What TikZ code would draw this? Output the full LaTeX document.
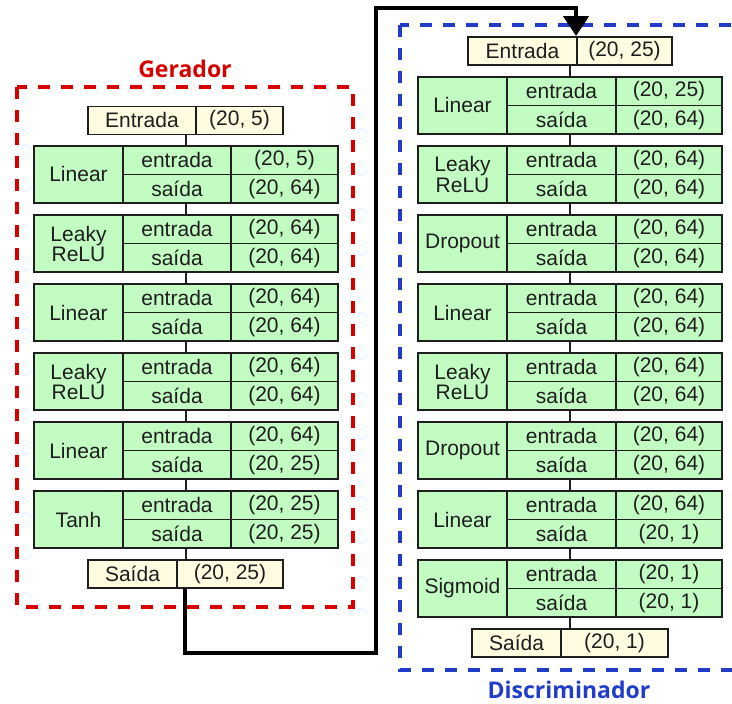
\documentclass[tikz,border=0pt]{standalone}
\usepackage{fontspec}
\setmainfont{Liberation Sans}
\newfontfamily\headfont{Open Sans}
\usepackage{xcolor}
\usetikzlibrary{arrows.meta}

\definecolor{layer}{RGB}{194,252,194}
\definecolor{io}{RGB}{255,252,226}
\definecolor{edge}{RGB}{30,30,30}
\definecolor{genred}{RGB}{214,0,0}
\definecolor{discblue}{RGB}{32,60,200}

\begin{document}
\begin{tikzpicture}[x=0.5pt,y=-0.5pt,
  cell/.style={draw=edge, line width=0.95pt, inner sep=0pt, align=center,
    font=\fontsize{10.5}{10}\selectfont, text=edge},
  namecell/.style={cell, fill=layer, minimum width=44.5pt, minimum height=28.5pt},
  keycell/.style={cell, fill=layer, minimum width=54pt, minimum height=14.25pt},
  valcell/.style={cell, fill=layer, minimum width=53.5pt, minimum height=14.25pt},
  iocell/.style={cell, fill=io, minimum height=14pt},
  link/.style={draw=edge, line width=0.65pt},
  frame/.style={line width=2pt, dash pattern=on 6pt off 5.5pt},
  title/.style={font=\headfont\bfseries\fontsize{11.5}{12}\selectfont},
  flow/.style={line width=2.3pt, -{Triangle[width=12.5pt,length=10pt]}}
]
\clip (0,0) rectangle (732,704);

% frames and titles
\draw[frame, genred] (17,87) rectangle (353,607);
\node[title, text=genred] (gtitle) at (185,69) {Gerador};
\draw[frame, discblue] (400,25) rectangle (760,670);
\node[title, text=discblue] (dtitle) at (569,690) {Discriminador};

% generator
\node[iocell, minimum width=54pt] (gin) at (142,120.5) {Entrada};
\node[iocell, minimum width=43.5pt] (ginv) at (239.5,120.5) {(20, 5)};
\coordinate (g0-bot) at (186,134);
\foreach \i/\nm/\a/\b in {1/Linear/{(20, 5)}/{(20, 64)},
    2/{Leaky\\ReLU}/{(20, 64)}/{(20, 64)},
    3/Linear/{(20, 64)}/{(20, 64)},
    4/{Leaky\\ReLU}/{(20, 64)}/{(20, 64)},
    5/Linear/{(20, 64)}/{(20, 25)},
    6/Tanh/{(20, 25)}/{(20, 25)}}{
  \pgfmathsetmacro\yc{174.5+69*(\i-1)}
  \node[namecell] (g\i) at (78.5,\yc) {\nm};
  \node[keycell] (g\i-in) at (177,\yc-14.25) {entrada};
  \node[valcell] (g\i-inv) at (284.5,\yc-14.25) {\a};
  \node[keycell] (g\i-out) at (177,\yc+14.25) {saída};
  \node[valcell] (g\i-outv) at (284.5,\yc+14.25) {\b};
  \coordinate (g\i-top) at (186,\yc-28.5);
  \coordinate (g\i-bot) at (186,\yc+28.5);
}
\node[iocell, minimum width=44.5pt] (gout) at (132.5,574) {Saída};
\node[iocell, minimum width=53pt] (goutv) at (230,574) {(20, 25)};
\coordinate (g7-top) at (186,560);
\coordinate (g7-bot) at (185,588);
\foreach \i [evaluate=\i as \j using int(\i-1)] in {1,...,7}
  \draw[link] (g\j-bot) -- (g\i-top);

% discriminator
\node[iocell, minimum width=54.5pt] (din) at (522.5,51) {Entrada};
\node[iocell, minimum width=47.5pt] (dinv) at (624.5,51) {(20, 25)};
\coordinate (d0-bot) at (570,65);
\foreach \i/\nm/\a/\b in {1/Linear/{(20, 25)}/{(20, 64)},
    2/{Leaky\\ReLU}/{(20, 64)}/{(20, 64)},
    3/Dropout/{(20, 64)}/{(20, 64)},
    4/Linear/{(20, 64)}/{(20, 64)},
    5/{Leaky\\ReLU}/{(20, 64)}/{(20, 64)},
    6/Dropout/{(20, 64)}/{(20, 64)},
    7/Linear/{(20, 64)}/{(20, 1)},
    8/Sigmoid/{(20, 1)}/{(20, 1)}}{
  \pgfmathsetmacro\yc{105.5+69*(\i-1)}
  \node[namecell] (d\i) at (462.5,\yc) {\nm};
  \node[keycell, minimum width=54.5pt] (d\i-in) at (561.5,\yc-14.25) {entrada};
  \node[valcell, minimum width=53pt] (d\i-inv) at (669,\yc-14.25) {\a};
  \node[keycell, minimum width=54.5pt] (d\i-out) at (561.5,\yc+14.25) {saída};
  \node[valcell, minimum width=53pt] (d\i-outv) at (669,\yc+14.25) {\b};
  \coordinate (d\i-top) at (570,\yc-28.5);
  \coordinate (d\i-bot) at (570,\yc+28.5);
}
\node[iocell, minimum width=44.5pt] (dout) at (516.5,643) {Saída};
\node[iocell, minimum width=53.5pt] (doutv) at (614.5,643) {(20, 1)};
\coordinate (d9-top) at (570,629);
\foreach \i [evaluate=\i as \j using int(\i-1)] in {1,...,9}
  \draw[link] (d\j-bot) -- (d\i-top);

% generator output feeds the discriminator
\coordinate (bendlow) at (376,653);
\coordinate (bendhigh) at (376,8);
\draw[flow] (g7-bot) |- (bendlow) -- (bendhigh) -| (dinv.north west);
\end{tikzpicture}
\end{document}
